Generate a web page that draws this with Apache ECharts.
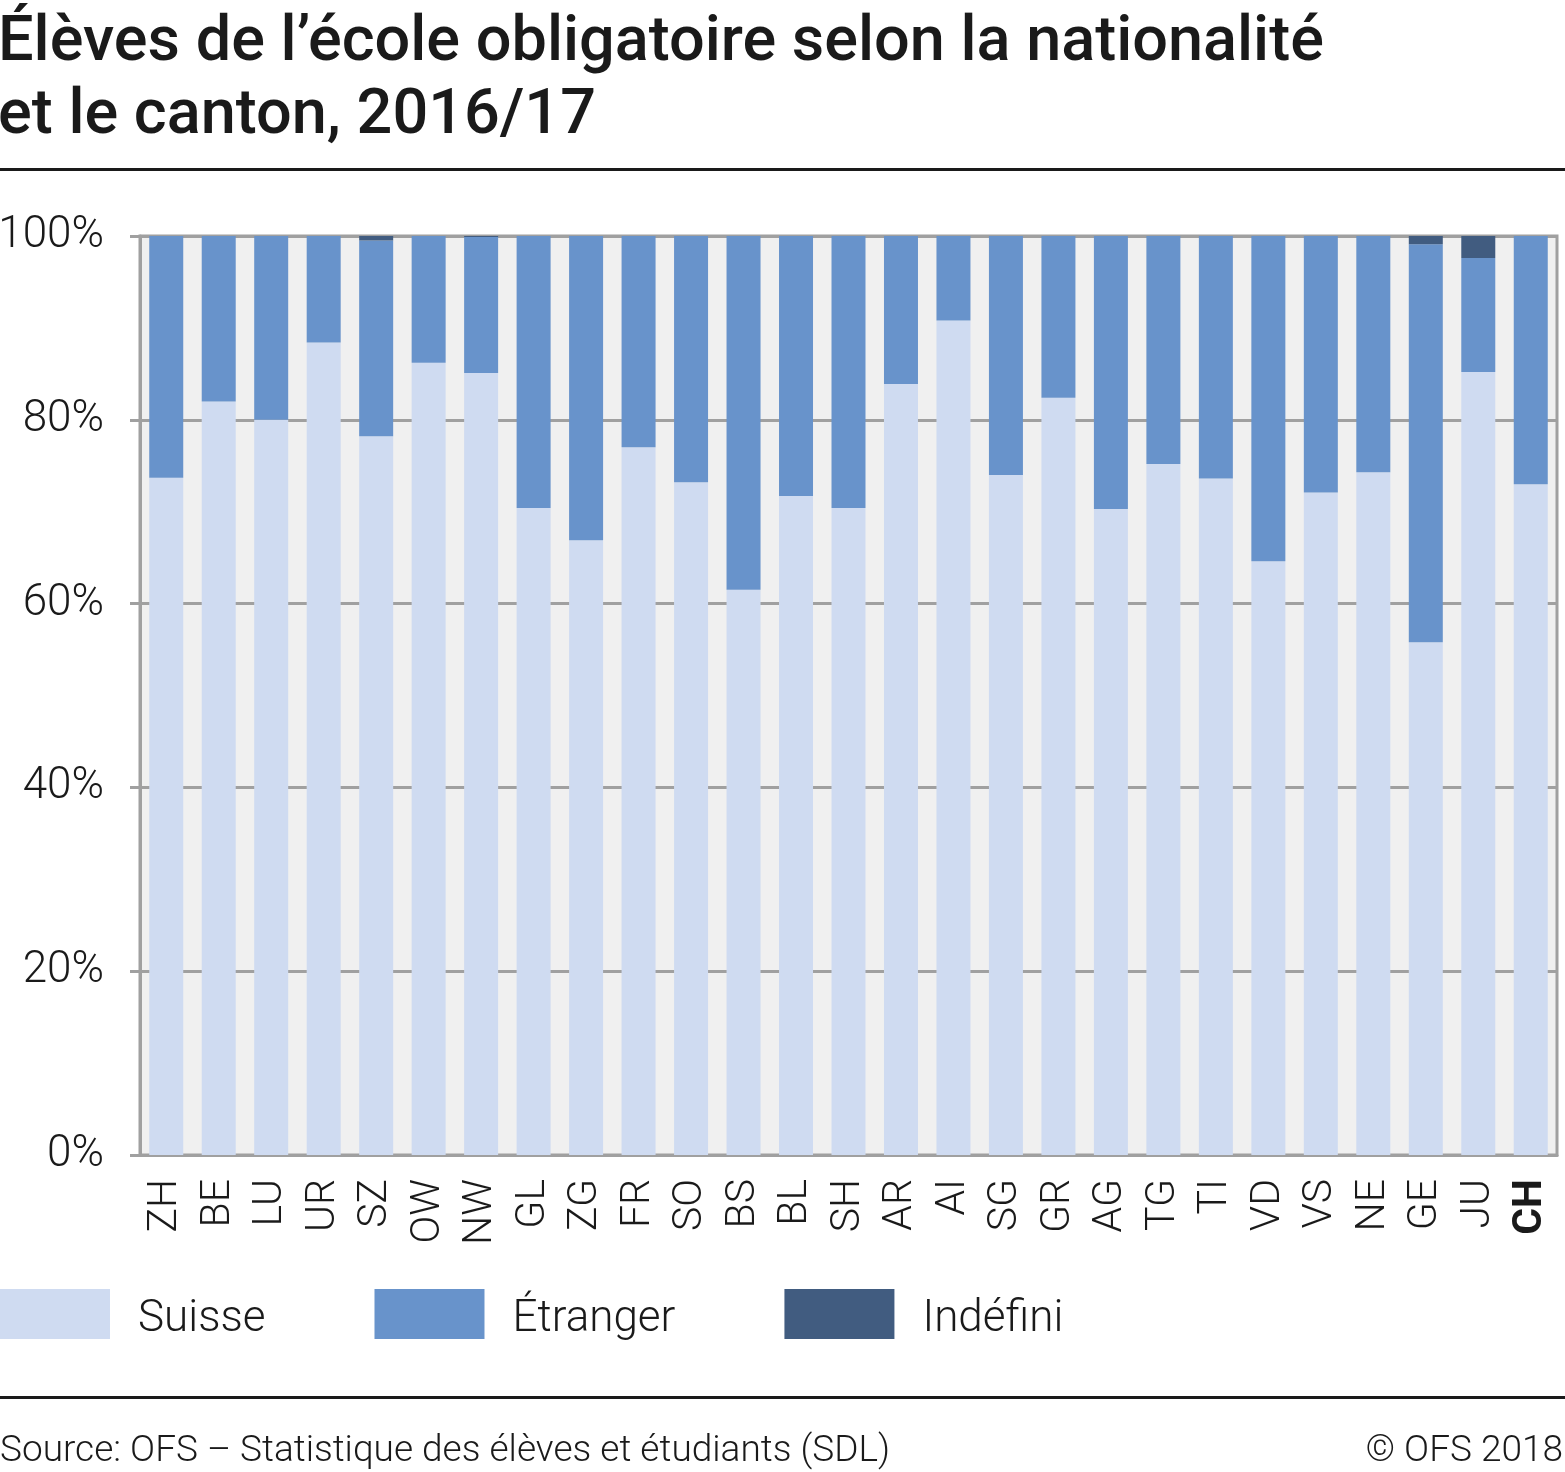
<!DOCTYPE html>
<html>
<head>
<meta charset="utf-8">
<script src="https://cdn.jsdelivr.net/npm/echarts@6/dist/echarts.min.js"></script>
<style>
html,body{margin:0;padding:0;background:#fff;}
#chart{width:1565px;height:1472px;}
</style>
</head>
<body>
<div id="chart"></div>
<script>
const categories = ['ZH','BE','LU','UR','SZ','OW','NW','GL','ZG','FR','SO','BS','BL','SH','AR','AI','SG','GR','AG','TG','TI','VD','VS','NE','GE','JU','CH'];
const suisse   = [73.7,82.0,80.0,88.4,78.2,86.2,85.1,70.4,66.9,77.0,73.2,61.5,71.7,70.4,83.9,90.8,74.0,82.4,70.3,75.2,73.6,64.6,72.1,74.3,55.8,85.2,73.0];
const etranger = [26.3,18.0,20.0,11.6,21.3,13.8,14.8,29.6,33.1,23.0,26.8,38.5,28.3,29.6,16.1,9.2,26.0,17.6,29.7,24.8,26.4,35.4,27.9,25.7,43.3,12.4,27.0];
const indefini = [0,0,0,0,0.5,0,0.1,0,0,0,0,0,0,0,0,0,0,0,0,0,0,0,0,0,0.9,2.4,0];
const yTicks = [0,20,40,60,80,100];

const chart = echarts.init(document.getElementById('chart'), null, {renderer:'canvas'});
const FONT = 'Roboto';
const option = {
  animation:false,
  backgroundColor:'#ffffff',
  title:{
    text:'Élèves de l’école obligatoire selon la nationalité\net le canton, 2016/17',
    left:-2, top:8, padding:0,
    textStyle:{fontFamily:FONT, fontWeight:500, fontSize:63, lineHeight:73, color:'#1a1a1a'}
  },
  legend:{
    left:0, top:1289, padding:0,
    itemWidth:110, itemHeight:50, itemGap:109,
    icon:'rect',
    formatter:function(n){ return '{a|'+n+'}'; },
    textStyle:{fontFamily:FONT, fontWeight:300, fontSize:44, color:'#1a1a1a', padding:[0,0,0,23],
      rich:{a:{fontFamily:FONT, fontWeight:300, fontSize:44, color:'#1a1a1a', padding:[12,0,0,0]}}},
    data:['Suisse','Étranger','Indéfini']
  },
  grid:{
    left:140, right:8, top:236, bottom:317,
    show:true, backgroundColor:'#f0f0f0', borderColor:'#a0a0a0', borderWidth:3,
    containLabel:false, outerBoundsMode:'none'
  },
  xAxis:{
    type:'category', data:categories,
    axisLine:{show:true, lineStyle:{color:'#a0a0a0', width:3}},
    axisTick:{show:false},
    axisLabel:{
      interval:0,
      rotate:90, margin:24, fontFamily:FONT, fontWeight:300, fontSize:41, color:'#1a1a1a',
      formatter:function(v){ return v==='CH' ? '{b|'+v+'}' : v; },
      rich:{b:{fontFamily:FONT, fontWeight:'bold', fontSize:41, color:'#1a1a1a'}}
    }
  },
  yAxis:{
    type:'value', min:0, max:100, interval:20,
    axisLine:{show:true, lineStyle:{color:'#a0a0a0', width:3}},
    axisTick:{show:true, length:10, lineStyle:{color:'#a0a0a0', width:3}},
    splitLine:{show:true, lineStyle:{color:'#a0a0a0', width:3}},
    axisLabel:{margin:36, fontFamily:FONT, fontWeight:300, fontSize:44, color:'#1a1a1a',
      formatter:function(v){ return yTicks.indexOf(v)>=0 ? v+'%' : ''; }}
  },
  series:[
    {name:'Suisse', type:'bar', stack:'t', data:suisse, barWidth:34, itemStyle:{color:'#cfdbf1'}},
    {name:'Étranger', type:'bar', stack:'t', data:etranger, barWidth:34, itemStyle:{color:'#6893cb'}},
    {name:'Indéfini', type:'bar', stack:'t', data:indefini, barWidth:34, itemStyle:{color:'#415c80'}}
  ],
  graphic:[
    {type:'rect', shape:{x:0, y:168, width:1565, height:3}, style:{fill:'#1a1a1a'}},
    {type:'rect', shape:{x:0, y:1396, width:1565, height:3}, style:{fill:'#1a1a1a'}},
    {type:'text', x:0, y:1452, style:{text:'Source: OFS – Statistique des élèves et étudiants (SDL)', fontFamily:FONT, fontWeight:300, fontSize:37, fill:'#1a1a1a', verticalAlign:'middle', align:'left'}},
    {type:'text', x:1563, y:1452, style:{text:'© OFS 2018', fontFamily:FONT, fontWeight:300, fontSize:37, fill:'#1a1a1a', verticalAlign:'middle', align:'right'}}
  ]
};
chart.setOption(option);
</script>
</body>
</html>
